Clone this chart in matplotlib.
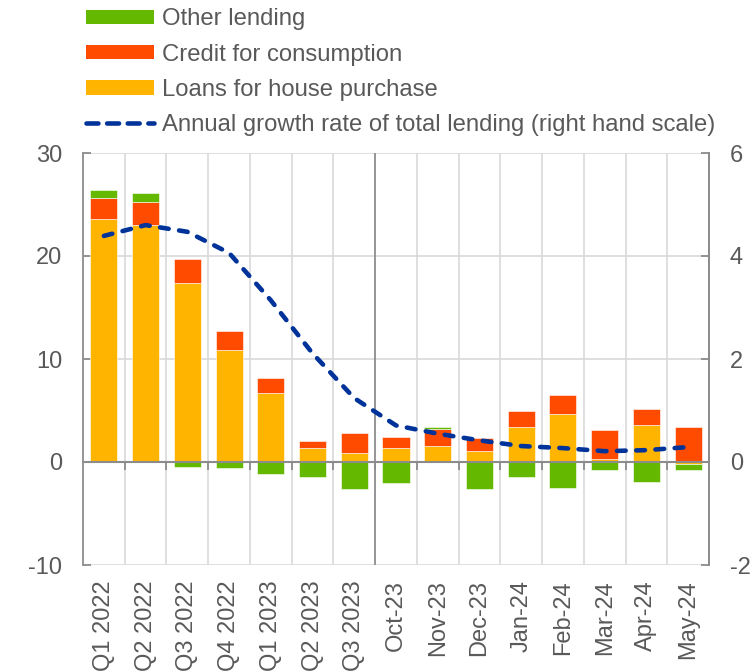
import numpy as np
import matplotlib
matplotlib.use("Agg")
import matplotlib.pyplot as plt
from matplotlib.patches import Patch
from matplotlib.lines import Line2D
from matplotlib.transforms import Bbox

plt.rcParams['font.family'] = ['Liberation Sans', 'DejaVu Sans']
plt.rcParams['axes.unicode_minus'] = False

categories = ["Q1 2022", "Q2 2022", "Q3 2022", "Q4 2022", "Q1 2023", "Q2 2023", "Q3 2023",
              "Oct-23", "Nov-23", "Dec-23", "Jan-24", "Feb-24", "Mar-24", "Apr-24", "May-24"]
house = [23.6, 23.0, 17.4, 10.9, 6.7, 1.4, 0.9, 1.4, 1.55, 1.05, 3.4, 4.65, 0.25, 3.6, -0.15]
consumption = [2.0, 2.2, 2.3, 1.8, 1.5, 0.6, 1.9, 1.05, 1.65, 1.25, 1.55, 1.85, 2.85, 1.55, 3.4]
other = [0.8, 0.9, -0.45, -0.6, -1.2, -1.5, -2.6, -2.0, 0.2, -2.6, -1.45, -2.5, -0.8, -1.9, -0.6]
growth = [4.39, 4.6, 4.47, 4.06, 3.14, 2.11, 1.24, 0.71, 0.55, 0.42, 0.31, 0.27, 0.21, 0.23, 0.29]

c_house = "#FFB400"
c_cons = "#FF4B00"
c_other = "#65B800"
c_line = "#003399"
txt = "#595959"
grid_c = "#D9D9D9"
axis_c = "#8C8C8C"

fig = plt.figure(figsize=(7.52, 6.72), dpi=100)
ax = fig.add_axes([83/752, 1-565/672, (709-83)/752, (565-153)/672])
x = np.arange(len(categories))
w = 0.65

pos = np.zeros(len(x))
neg = np.zeros(len(x))
for vals, col in [(house, c_house), (consumption, c_cons), (other, c_other)]:
    v = np.array(vals, dtype=float)
    bottom = np.where(v >= 0, pos, neg)
    ax.bar(x, v, w, bottom=bottom, color=col, edgecolor='white', linewidth=0.4, zorder=3)
    pos = pos + np.where(v >= 0, v, 0)
    neg = neg + np.where(v < 0, v, 0)

ymin, ymax = -10, 30
ax.set_ylim(ymin, ymax)
ax.set_xlim(-0.5, len(x)-0.5)
ax.set_yticks([-10, 0, 10, 20, 30])
ax.yaxis.grid(True, color=grid_c, linewidth=1.2, zorder=0)
boundaries = np.arange(0.5, len(x)-0.5, 1)
for b in boundaries:
    if b == 6.5:
        ax.axvline(b, color=axis_c, linewidth=1.3, zorder=2)
    else:
        ax.axvline(b, color=grid_c, linewidth=1.2, zorder=0)
ax.axhline(0, color=axis_c, linewidth=1.5, zorder=4)

ax.set_xticks(x)
ax.set_xticklabels(categories, rotation=90, va='top', ha='center')
ax.tick_params(axis='x', length=0, pad=11, labelsize=17, labelcolor=txt)
ax.tick_params(axis='y', direction='in', length=6, width=1.3, color=axis_c,
               pad=15, labelsize=17, labelcolor=txt)
for s in ['top', 'bottom']:
    ax.spines[s].set_visible(False)
for s in ['left', 'right']:
    ax.spines[s].set_color(axis_c)
    ax.spines[s].set_linewidth(1.3)

sec = ax.secondary_xaxis((0 - ymin) / (ymax - ymin))
sec.set_xticks(boundaries)
sec.set_xticklabels([])
sec.tick_params(axis='x', direction='out', length=6, width=1.3, color=axis_c)
sec.spines['bottom'].set_visible(False)

ax2 = ax.twinx()
ax2.set_ylim(-2, 6)
ax2.set_yticks([-2, 0, 2, 4, 6])
ax2.plot(x, growth, color=c_line, linewidth=3.3, linestyle=(0, (1.9, 2.3)),
         dash_capstyle='round', zorder=5)
ax2.tick_params(axis='y', direction='in', length=6, width=1.3, color=axis_c,
                pad=15, labelsize=17, labelcolor=txt)
for s in ['top', 'bottom', 'left']:
    ax2.spines[s].set_visible(False)
ax2.spines['right'].set_color(axis_c)
ax2.spines['right'].set_linewidth(1.3)

handles = [Patch(facecolor=c_other, edgecolor='none'),
           Patch(facecolor=c_cons, edgecolor='none'),
           Patch(facecolor=c_house, edgecolor='none'),
           Line2D([0], [0], color=c_line, linewidth=3.3, linestyle=(0, (2.6, 1.9)),
                  dash_capstyle='round')]
labels = ["Other lending", "Credit for consumption", "Loans for house purchase",
          "Annual growth rate of total lending (right hand scale)"]
leg = fig.legend(handles, labels, loc='upper left', bbox_to_anchor=(86/752, 1-8.5/672),
                 frameon=False, fontsize=17.2, borderpad=0, borderaxespad=0,
                 handlelength=2.85, handleheight=0.55, handletextpad=0.34,
                 labelspacing=0.55)
for t in leg.get_texts():
    t.set_color(txt)

ylab = fig.text(15/752, 1-208/672, "EUR billions", rotation=90, ha='right', va='center',
                fontsize=10, color=txt)
ylab.set_clip_box(Bbox.from_extents(11, 0, 15, 672))
ylab.set_clip_on(True)

fig.savefig("out.png", dpi=100)
